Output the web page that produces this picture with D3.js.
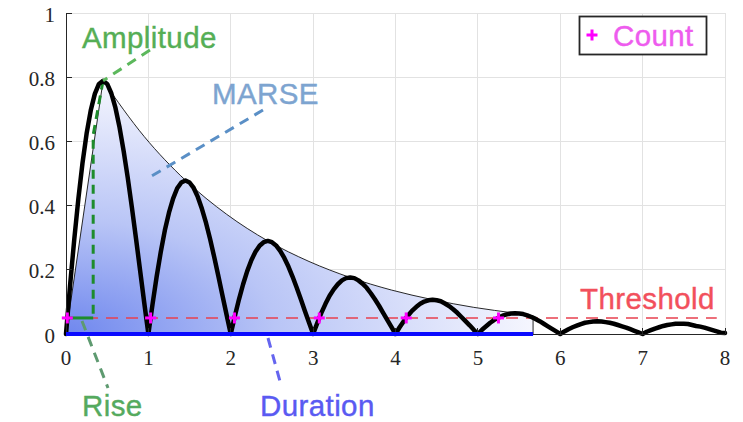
<!DOCTYPE html>
<html>
<head>
<meta charset="utf-8">
<script src="https://cdn.jsdelivr.net/npm/d3@7"></script>
<style>
  html, body { margin: 0; padding: 0; background: #fff; }
  svg { display: block; }
</style>
</head>
<body>
<script>
// ---------------- data ----------------
const xTicks = [0, 1, 2, 3, 4, 5, 6, 7, 8];
const yTicks = [0, 0.2, 0.4, 0.6, 0.8, 1];
const yTickLabels = ["0", "0.2", "0.4", "0.6", "0.8", "1"];

// rectified decaying signal, sampled every 0.05 from 0 to 8
const sampleStep = 0.05;
const signalY = [
  0, .153, .294, .421, .532, .624, .696, .748, .779, .789, .779, .750, .705, .644, .570, .486, .394, .297, .197, .097,
  0, .092, .178, .255, .323, .378, .422, .454, .472, .478, .472, .455, .427, .390, .346, .295, .239, .180, .119, .059,
  0, .056, .108, .155, .196, .230, .256, .275, .286, .290, .286, .276, .259, .237, .210, .179, .145, .109, .072, .036,
  0, .034, .066, .094, .119, .139, .155, .167, .174, .176, .174, .167, .157, .144, .127, .108, .088, .066, .044, .022,
  0, .021, .040, .057, .072, .084, .094, .101, .105, .107, .105, .102, .095, .087, .077, .066, .053, .040, .027, .013,
  0, .013, .024, .035, .044, .051, .057, .061, .064, .065, .064, .062, .058, .053, .047, .040, .032, .024, .016, .008,
  0, .008, .015, .021, .026, .031, .035, .037, .039, .040, .039, .037, .035, .032, .028, .024, .020, .015, .010, .005,
  0, .007, .012, .017, .021, .025, .028, .030, .032, .032, .032, .031, .028, .025, .023, .020, .016, .012, .008, .004,
  .003
];

// envelope (MARSE area boundary)
const envX = [0.45, 0.95, 1.45, 1.95, 2.45, 2.95, 3.45, 3.95, 4.45, 4.95, 5.45, 5.67];
const envY = [.789, .615, .479, .373, .290, .226, .176, .137, .107, .083, .065, .057];

const threshold = 0.05;
const durationEnd = 5.67;
const countX = [0.016, 1.027, 2.045, 3.075, 4.13, 5.25];
const riseX = 0.33;       // rise marker position
const riseKneeY = 0.62;

// ---------------- drawing ----------------
const W = 743, H = 422;
const svg = d3.select("body").append("svg").attr("width", W).attr("height", H);

const x = d3.scaleLinear().domain([0, 8]).range([66, 725]);
const y = d3.scaleLinear().domain([0, 1]).range([334, 13]);

const defs = svg.append("defs");
const grad = defs.append("radialGradient").attr("id", "fillGrad")
  .attr("cx", 0).attr("cy", 1).attr("r", 1).attr("fx", 0).attr("fy", 1);
grad.append("stop").attr("offset", 0).attr("stop-color", "#6f87ee");
grad.append("stop").attr("offset", 0.45).attr("stop-color", "#b9c5f6");
grad.append("stop").attr("offset", 1).attr("stop-color", "#f5f6fe");

// grid
const grid = svg.append("g").attr("stroke", "#e2e2e2").attr("stroke-width", 1).attr("shape-rendering", "crispEdges");
xTicks.filter(d => d > 0).forEach(t => grid.append("line")
  .attr("x1", x(t)).attr("x2", x(t)).attr("y1", y(0)).attr("y2", y(1)));
yTicks.filter(d => d > 0).forEach(t => grid.append("line")
  .attr("x1", x(0)).attr("x2", x(8)).attr("y1", y(t)).attr("y2", y(t)));

// MARSE fill area
const envPts = envX.map((d, i) => [x(d), y(envY[i])]);
const envLine = d3.line().curve(d3.curveMonotoneX);
const envPath = envLine(envPts);
const areaPath = "M" + x(0) + "," + y(0) + "L" + envPath.slice(1) +
  "L" + x(durationEnd) + "," + y(0) + "Z";
svg.append("path").attr("d", areaPath)
  .attr("fill", "url(#fillGrad)")
  .attr("stroke", "#111").attr("stroke-width", 0.9).attr("stroke-linejoin", "round");

// threshold line
svg.append("line")
  .attr("x1", x(0)).attr("x2", x(7.9)).attr("y1", y(threshold)).attr("y2", y(threshold))
  .attr("stroke", "#e8404f").attr("stroke-width", 1.4).attr("stroke-dasharray", "12,8");

// rise marker (green)
svg.append("path")
  .attr("d", d3.line()([[x(envX[0]), y(envY[0])], [x(riseX), y(riseKneeY)], [x(riseX), y(threshold)]]))
  .attr("fill", "none").attr("stroke", "#1e8c2c").attr("stroke-width", 3).attr("stroke-dasharray", "9,6");
svg.append("line")
  .attr("x1", x(countX[0])).attr("x2", x(riseX)).attr("y1", y(threshold)).attr("y2", y(threshold))
  .attr("stroke", "#1e8c2c").attr("stroke-width", 3);

// signal
const sig = signalY.map((v, i) => [x(i * sampleStep), y(v)]);
svg.append("path").attr("d", d3.line()(sig))
  .attr("fill", "none").attr("stroke", "#000").attr("stroke-width", 4.5)
  .attr("stroke-linejoin", "round").attr("stroke-linecap", "round");

// axes
const axisG = svg.append("g").attr("stroke", "#262626").attr("stroke-width", 1).attr("shape-rendering", "crispEdges");
axisG.append("line").attr("x1", x(0)).attr("x2", x(0)).attr("y1", y(0)).attr("y2", y(1));
axisG.append("line").attr("x1", x(0)).attr("x2", x(8)).attr("y1", y(0)).attr("y2", y(0));
yTicks.forEach(t => axisG.append("line").attr("x1", x(0)).attr("x2", x(0) + 6).attr("y1", y(t)).attr("y2", y(t)));
xTicks.forEach(t => axisG.append("line").attr("x1", x(t)).attr("x2", x(t)).attr("y1", y(0)).attr("y2", y(0) - 6));

// duration bar
svg.append("line")
  .attr("x1", x(0)).attr("x2", x(durationEnd)).attr("y1", y(0)).attr("y2", y(0))
  .attr("stroke", "#0a0aff").attr("stroke-width", 4);

// count markers
function plus(g, cx, cy, s) {
  g.append("line").attr("x1", cx - s).attr("x2", cx + s).attr("y1", cy).attr("y2", cy);
  g.append("line").attr("x1", cx).attr("x2", cx).attr("y1", cy - s).attr("y2", cy + s);
}
const mk = svg.append("g").attr("stroke", "#ff00ff").attr("stroke-width", 3);
countX.forEach(c => plus(mk, x(c), y(threshold), 5.5));

// tick labels
const tickFont = "'Liberation Serif', 'Times New Roman', serif";
svg.append("g").selectAll("text").data(xTicks).join("text")
  .attr("x", d => x(d)).attr("y", 365)
  .attr("text-anchor", "middle").attr("font-family", tickFont).attr("font-size", 21)
  .attr("fill", "#262626").text(d => d);
svg.append("g").selectAll("text").data(yTicks).join("text")
  .attr("x", 55).attr("y", d => y(d) + 1.5)
  .attr("text-anchor", "end").attr("dominant-baseline", "central")
  .attr("font-family", tickFont).attr("font-size", 21)
  .attr("fill", "#262626").text((d, i) => yTickLabels[i]);

// annotations
const labFont = "'Liberation Sans', Arial, sans-serif";
function leader(pts, color) {
  svg.append("path").attr("d", d3.line()(pts)).attr("fill", "none")
    .attr("stroke", color).attr("stroke-width", 3).attr("stroke-dasharray", "10,7");
}
function label(txt, px, py, color) {
  svg.append("text").attr("x", px).attr("y", py).attr("font-family", labFont)
    .attr("font-size", 29.5).attr("letter-spacing", 0.4).attr("fill", color)
    .attr("stroke", color).attr("stroke-width", 0.4).text(txt);
}
leader([[150, 50], [x(envX[0]), y(envY[0])]], "#5cb85c");
label("Amplitude", 82, 48, "#55ae55");

leader([[263, 110], [150, 177]], "#5a8fc6");
label("MARSE", 212, 104, "#7da4d0");

label("Threshold", 580, 309, "#f2505c");

leader([[82, 321], [108, 388]], "#5e9a70");
label("Rise", 82, 416, "#55aa5e");

leader([[268, 338], [281, 385]], "#6565ef");
label("Duration", 260, 416, "#5a5af2");

// legend
svg.append("rect").attr("x", 579.5).attr("y", 16.5).attr("width", 127).attr("height", 38)
  .attr("fill", "#fff").attr("stroke", "#262626").attr("stroke-width", 1.8);
const lg = svg.append("g").attr("stroke", "#ff00ff").attr("stroke-width", 3);
plus(lg, 592, 35, 5.5);
label("Count", 613, 46, "#ee5cee");
</script>
</body>
</html>
